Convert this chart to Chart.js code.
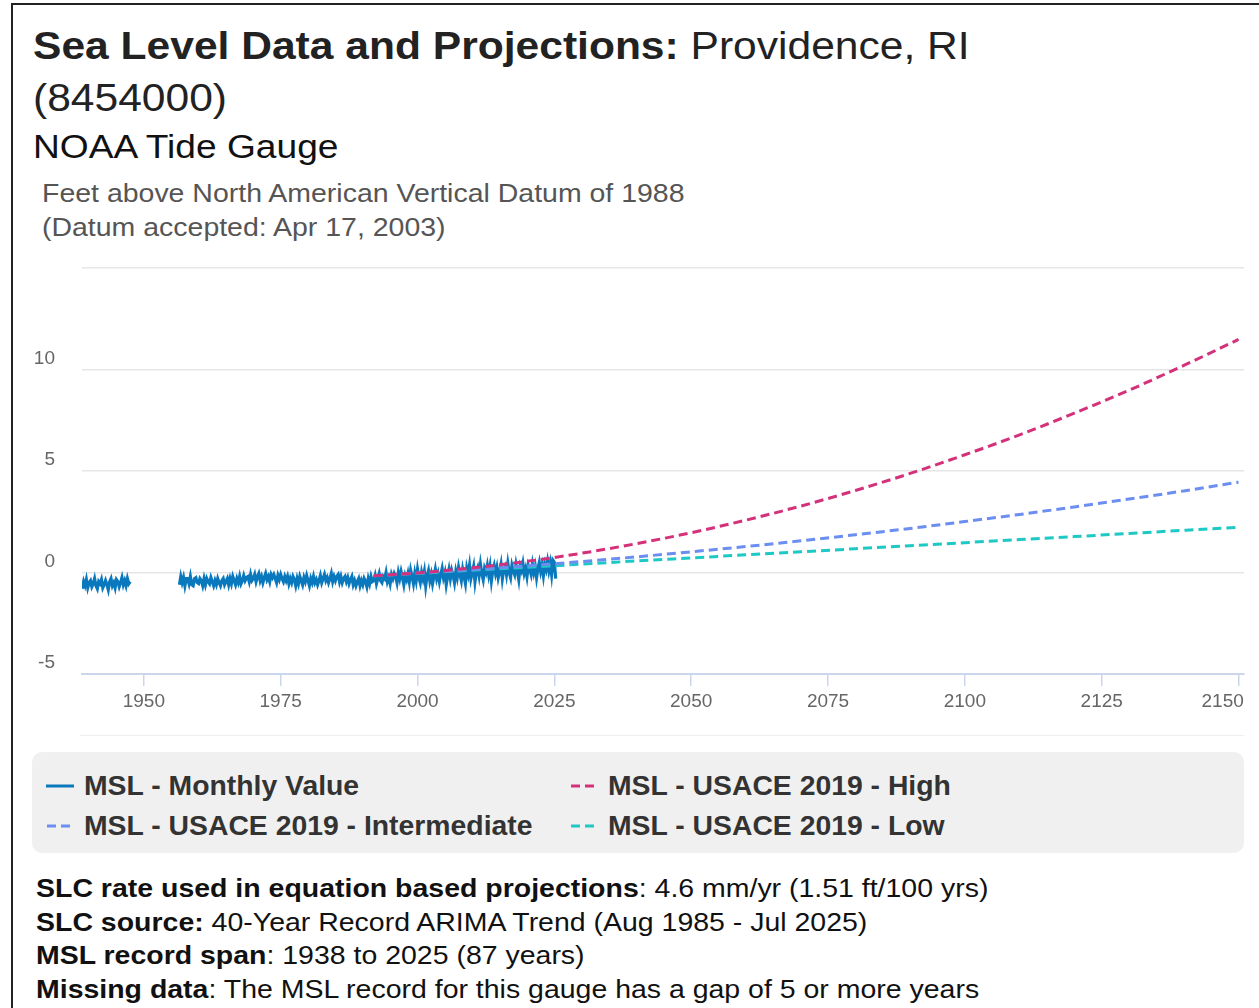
<!DOCTYPE html>
<html>
<head>
<meta charset="utf-8">
<script src="https://cdn.jsdelivr.net/npm/chart.js@4.4.1/dist/chart.umd.min.js"></script>
<style>
  body { margin: 0; background: #fff; font-family: "Liberation Sans", Arial, sans-serif; }
  #page { position: relative; width: 1259px; height: 1008px; overflow: hidden; }
  #frame { position: absolute; left: 11px; top: 3px; width: 1400px; height: 1200px; border-top: 2px solid #222; border-left: 2px solid #222; }
  .t { position: absolute; white-space: nowrap; transform-origin: 0 0; }
  #title { left: 33px; top: 20px; font-size: 38px; line-height: 52px; color: #222; transform: scaleX(1.12); }
  #gauge { left: 33px; top: 127px; font-size: 33px; line-height: 40px; color: #111; transform: scaleX(1.125); }
  #sub { left: 42px; top: 176px; font-size: 26px; line-height: 34px; color: #555; transform: scaleX(1.095); }
  #chartWrap { position: absolute; left: 0; top: 0; width: 1259px; height: 740px; }
  #sep { position: absolute; left: 80px; top: 735px; width: 1164px; height: 1px; background: #eeeeee; }
  #legend { position: absolute; left: 32px; top: 752px; width: 1212px; height: 101px; background: #f0f0f0; border-radius: 10px;
            box-sizing: border-box; padding: 14px 0 0 14px; display: grid; grid-template-columns: 524px auto; grid-auto-rows: 40px; }
  .item { display: flex; align-items: center; font-size: 27px; font-weight: bold; color: #333; line-height: 40px; }
  .item span { display: inline-block; transform: scaleX(1.05); transform-origin: 0 50%; }
  .item svg { margin-right: 10px; }
  #notes { left: 36px; top: 872px; font-size: 26px; line-height: 33.7px; color: #111; transform: scaleX(1.095); }
</style>
</head>
<body>
<div id="page">
  <div id="frame"></div>
  <div class="t" id="title"><b>Sea Level Data and Projections:</b> Providence, RI<br>(8454000)</div>
  <div class="t" id="gauge">NOAA Tide Gauge</div>
  <div class="t" id="sub">Feet above North American Vertical Datum of 1988<br>(Datum accepted: Apr 17, 2003)</div>
  <div id="chartWrap"><canvas id="grafico" width="1259" height="740"></canvas></div>
  <div id="sep"></div>
  <div id="legend"></div>
  <div class="t" id="notes">
    <b>SLC rate used in equation based projections</b>: 4.6 mm/yr (1.51 ft/100 yrs)<br>
    <b>SLC source:</b> 40-Year Record ARIMA Trend (Aug 1985 - Jul 2025)<br>
    <b>MSL record span</b>: 1938 to 2025 (87 years)<br>
    <b>Missing data</b>: The MSL record for this gauge has a gap of 5 or more years
  </div>
</div>

<script>
// Datos: nivel medio mensual (ft, NAVD88), leído cada trimestre
const mslEarlyStart = 1938.75;
const mslEarly = [
  -0.8, -0.45, -0.65, -0.35, -0.75, -0.5, -0.4, -0.7, -0.55, -0.3, -0.65, -0.8,
  -0.45, -0.55, -0.35, -0.75, -0.6, -0.4, -0.6, -0.85, -0.45, -0.3, -0.65, -0.5,
  -0.75, -0.35, -0.45, -0.7, -0.5, -0.25, -0.6, -0.4, -0.65, -0.3, -0.55, -0.45
];
const mslLateStart = 1956.5;
const mslLate = [
  -0.6, -0.2,
  -0.5, -0.25, -0.65, -0.3,   -0.3, -0.55, -0.2, -0.6,   -0.65, -0.3, -0.25, -0.5,    // 1957-59
  -0.55, -0.3, -0.4, -0.65,   -0.3, -0.6, -0.3, -0.45,   -0.55, -0.25, -0.45, -0.65,  // 1960-62
  -0.4, -0.6, -0.3, -0.5,   -0.65, -0.4, -0.3, -0.6,   -0.45, -0.3, -0.6, -0.3,       // 1963-65
  -0.55, -0.2, -0.4, -0.6,   -0.3, -0.5, -0.2, -0.55,   -0.4, -0.15, -0.4, -0.25,     // 1966-68
  -0.2, -0.45, -0.1, -0.4,   -0.3, -0.1, -0.45, -0.2,   -0.05, -0.4, -0.2, -0.5,      // 1969-71
  -0.25, -0.05, -0.35, -0.2,   -0.45, -0.1, -0.25, -0.1,   -0.3, -0.5, -0.15, -0.35,  // 1972-74
  -0.1, -0.3, -0.45, -0.2,   -0.4, -0.2, -0.55, -0.3,   -0.5, -0.2, -0.35, -0.65,     // 1975-77
  -0.3, -0.55, -0.2, -0.4,   -0.6, -0.25, -0.45, -0.15,   -0.4, -0.65, -0.3, -0.5,    // 1978-80
  -0.2, -0.5, -0.35, -0.6,   -0.4, -0.15, -0.5, -0.3,   -0.1, -0.4, -0.25, -0.5,      // 1981-83
  -0.3, -0.05, -0.45, -0.2,   -0.4, -0.2, -0.1, -0.45,   -0.2, -0.5, -0.3, -0.2,      // 1984-86
  -0.45, -0.25, -0.55, -0.35,   -0.2, -0.6, -0.4, -0.65,   -0.45, -0.3, -0.65, -0.4,  // 1987-89
  -0.6, -0.3, -0.45, -0.7,   -0.3, -0.55, -0.2, -0.45,   -0.4, -0.15, -0.55, -0.3,    // 1990-92
  -0.05, -0.4, -0.5, -0.2,   -0.3, 0.0, -0.45, -0.25,   -0.55, -0.1, -0.3, -0.05,     // 1993-95
  -0.2, -0.5, 0.0, -0.3,   0.05, -0.25, -0.6, -0.15,   -0.35, -0.05, -0.45, 0.1,      // 1996-98
  -0.2, -0.55, -0.05, -0.4,   0.15, -0.25, -0.5, 0.0,   -0.3, 0.05, -0.65, -0.15,     // 1999-2001
  0.1, -0.4, -0.1, -0.55,   -0.2, 0.15, -0.3, -0.05,   -0.45, -0.1, 0.2, -0.25,       // 2002-04
  0.0, -0.6, -0.2, 0.15,   -0.3, 0.1, -0.15, -0.5,   0.05, -0.25, 0.25, -0.1,         // 2005-07
  -0.4, 0.15, -0.2, -0.55,   0.2, -0.1, 0.35, -0.3,   0.0, 0.3, -0.45, 0.05,          // 2008-10
  0.25, -0.15, 0.4, -0.05,   -0.35, 0.2, 0.0, 0.35,   -0.1, 0.3, -0.4, 0.1,           // 2011-13
  0.35, -0.05, 0.25, -0.25,   0.05, 0.4, -0.3, 0.15,   0.3, -0.1, 0.45, 0.0,          // 2014-16
  -0.25, 0.35, 0.1, -0.1,   0.4, 0.05, -0.35, 0.3,   0.1, 0.45, -0.05, 0.2,           // 2017-19
  -0.2, 0.35, 0.15, -0.1,   0.4, 0.0, 0.3, -0.25,   0.2, 0.5, 0.05, 0.35,             // 2020-22
  -0.15, 0.4, 0.15, 0.55,   0.1, 0.45, -0.1, 0.6,                                     // 2023-24
  0.5, -0.3                                                                           // 2025
];

// Proyecciones USACE 2019 (ft)
const projYears = [1992, 2000, 2010, 2020, 2030, 2040, 2050, 2060, 2070, 2080, 2090, 2100, 2110, 2120, 2130, 2140, 2150];
const usaceHigh = [-0.16, -0.02, 0.23, 0.55, 0.95, 1.42, 1.96, 2.58, 3.27, 4.04, 4.88, 5.80, 6.78, 7.85, 8.98, 10.20, 11.48];
const usaceInt  = [-0.16, -0.03, 0.14, 0.33, 0.54, 0.77, 1.02, 1.28, 1.56, 1.86, 2.17, 2.51, 2.86, 3.23, 3.62, 4.02, 4.45];
const usaceLow  = [-0.16, -0.04, 0.11, 0.26, 0.41, 0.57, 0.72, 0.87, 1.02, 1.17, 1.32, 1.47, 1.62, 1.77, 1.92, 2.08, 2.23];

// Ejes
const xMin = 1938.7, xMax = 2151;
const xTicks = [1950, 1975, 2000, 2025, 2050, 2075, 2100, 2125, 2150];
const yTicks = [-5, 0, 5, 10, 15];

const FONT = '"Liberation Sans", Arial, sans-serif';

function puntos(start, vals) {
  return vals.map((v, i) => ({ x: start + i / 4, y: v }));
}
function proy(vals) {
  return projYears.map((yr, i) => ({ x: yr, y: vals[i] }));
}

const monthly = puntos(mslEarlyStart, mslEarly)
  .concat([{ x: 1952, y: null }])
  .concat(puntos(mslLateStart, mslLate));

const dashed = { borderDash: [9, 5], borderWidth: 3, pointRadius: 0, fill: false, cubicInterpolationMode: 'monotone', order: 1 };

const ctx = document.getElementById('grafico').getContext('2d');
const chart = new Chart(ctx, {
  type: 'line',
  data: {
    datasets: [
      { label: 'MSL - Monthly Value', data: monthly, borderColor: '#0a78bd', borderWidth: 3.2, pointRadius: 0, spanGaps: false, order: 2 },
      Object.assign({ label: 'MSL - USACE 2019 - High', data: proy(usaceHigh), borderColor: '#d4317a' }, dashed),
      Object.assign({ label: 'MSL - USACE 2019 - Intermediate', data: proy(usaceInt), borderColor: '#6b8ef0' }, dashed),
      Object.assign({ label: 'MSL - USACE 2019 - Low', data: proy(usaceLow), borderColor: '#1ec8c4' }, dashed)
    ]
  },
  options: {
    responsive: false,
    animation: false,
    layout: { padding: { top: 268, right: 15, left: 0, bottom: 0 } },
    plugins: { legend: { display: false }, tooltip: { enabled: false } },
    scales: {
      x: {
        type: 'linear', min: xMin, max: xMax,
        afterBuildTicks: s => { s.ticks = xTicks.map(v => ({ value: v })); },
        afterFit: s => { s.height = 66; s.paddingLeft = 0; s.paddingRight = 0; },
        grid: { drawOnChartArea: false, color: '#ccd6eb', tickLength: 12, lineWidth: 1.5 },
        border: { color: '#ccd6eb', width: 2 },
        // la última etiqueta se corre a la izquierda para que quepa
        ticks: { color: '#666', font: { family: FONT, size: 19 }, padding: 4, maxRotation: 0, autoSkip: false,
                 callback: v => v === 2150 ? '2150      ' : String(v) }
      },
      y: {
        min: -5, max: 15,
        afterBuildTicks: s => { s.ticks = yTicks.map(v => ({ value: v })); },
        afterFit: s => { s.width = 82; },
        grid: { color: '#e6e6e6', lineWidth: 1.5, drawTicks: false, tickLength: 0 },
        border: { display: false },
        ticks: { color: '#666', font: { family: FONT, size: 19 }, padding: 27, labelOffset: -11, callback: v => v === 15 ? '' : String(v) }
      }
    }
  }
});

// Leyenda en dos columnas
const legend = document.getElementById('legend');
chart.data.datasets.forEach(ds => {
  const line = ds.borderDash
    ? '<line x1="1" y1="8" x2="27" y2="8" stroke="' + ds.borderColor + '" stroke-width="3" stroke-dasharray="9,5"/>'
    : '<line x1="0" y1="8" x2="28" y2="8" stroke="' + ds.borderColor + '" stroke-width="3"/>';
  legend.innerHTML += '<div class="item"><svg width="28" height="16">' + line + '</svg><span>' + ds.label + '</span></div>';
});
</script>
</body>
</html>
